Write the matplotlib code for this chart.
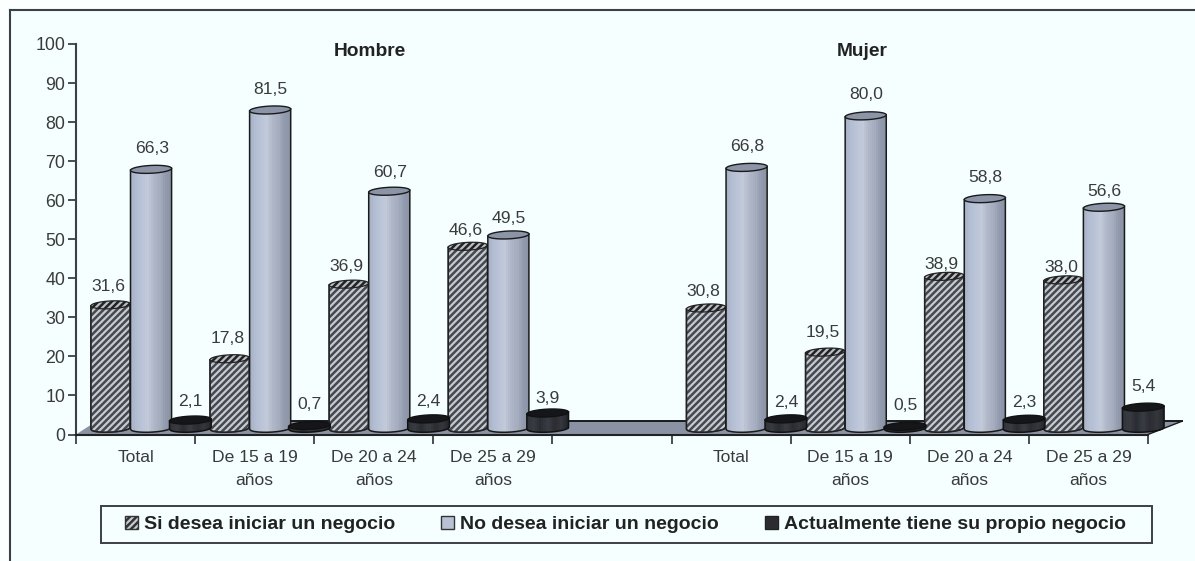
import numpy as np
import matplotlib
matplotlib.use("Agg")
import matplotlib.pyplot as plt
from matplotlib.patches import Polygon, Rectangle, Patch
from matplotlib.lines import Line2D

# ---- data ----
category_slots = [0, 1, 2, 3, 5, 6, 7, 8]
category_names = ["Total", "De 15 a 19\naños", "De 20 a 24\naños", "De 25 a 29\naños",
                  "Total", "De 15 a 19\naños", "De 20 a 24\naños", "De 25 a 29\naños"]
si_desea = [31.6, 17.8, 36.9, 46.6, 30.8, 19.5, 38.9, 38.0]
no_desea = [66.3, 81.5, 60.7, 49.5, 66.8, 80.0, 58.8, 56.6]
propio = [2.1, 0.7, 2.4, 3.9, 2.4, 0.5, 2.3, 5.4]
series_names = ["Si desea iniciar un negocio", "No desea iniciar un negocio",
                "Actualmente tiene su propio negocio"]
group_titles = ["Hombre", "Mujer"]
yticks = list(range(0, 101, 10))

# ---- style ----
W, H = 1195, 561
BG = "#F5FFFF"
TXT = "#3A3A3A"
LINE = "#3C3F45"
HATCH = "/////"
plt.rcParams["font.family"] = ["Liberation Sans", "DejaVu Sans"]
plt.rcParams["hatch.linewidth"] = 1.8

# downward nudges of the value labels, in pixels
drop_si = [4, 2, 4, 6, 5, 2, 10, 10]
drop_no = [1, 1, 3, 5, 1, 1, 1, 6]
drop_propio = [3, 1, 4, 7, 5, 1, 5, 1]
PX = 100 / 390.5

fig = plt.figure(figsize=(W / 100, H / 100), dpi=100, facecolor="#FCFFFF")
fig.add_artist(Rectangle((10 / W, 0), 1, 1 - 10 / H, transform=fig.transFigure, fc=BG, ec="none", zorder=-5))
fig.add_artist(Line2D([10 / W, 10 / W], [0, 1 - 10 / H], color=LINE, lw=1.5))
fig.add_artist(Line2D([10 / W, 1], [1 - 10 / H, 1 - 10 / H], color=LINE, lw=1.5))

ax = fig.add_axes([76 / W, 1 - 434.5 / H, (1148 - 76) / W, 390.5 / H])
ax.set_xlim(0, 9)
ax.set_ylim(0, 100)
ax.patch.set_alpha(0)
for s in ("top", "right"):
    ax.spines[s].set_visible(False)
ax.spines["left"].set_color(LINE)
ax.spines["left"].set_linewidth(1.5)
ax.spines["bottom"].set_color("#222222")
ax.spines["bottom"].set_linewidth(1.5)
ax.spines["bottom"].set_zorder(8)

ax.set_yticks(yticks)
ax.tick_params(axis="y", length=5.8, width=1.3, color=LINE, labelsize=12.8, labelcolor=TXT, pad=2)
ax.set_xticks(range(0, 10))
ax.set_xticklabels([])
ax.tick_params(axis="x", which="major", length=6.5, width=1.3, color=LINE)
ax.set_xticks([c + 0.5 for c in category_slots], minor=True)
ax.set_xticklabels(category_names, minor=True, fontsize=12.6, color=TXT, linespacing=1.72)
ax.tick_params(axis="x", which="minor", length=0, pad=11)

# floor in oblique projection
depth_x, depth_y = 0.286, 3.4
ax.add_patch(Polygon([(0, 0), (9, 0), (9 + depth_x, depth_y), (depth_x * 0.6, depth_y)],
                     closed=True, fc="#8A93A3", ec="none", zorder=1, clip_on=False))
ax.plot([depth_x * 0.6, 9 + depth_x], [depth_y, depth_y], color="#1A1A1A", lw=1.4, zorder=1.5, clip_on=False)
ax.plot([9, 9 + depth_x], [0, depth_y], color="#1A1A1A", lw=1.0, zorder=1.5, clip_on=False)

# cylinders
BASE = 1.6
B = 1.0        # semi-height of end ellipse in data units
TILT = 0.25
t = np.linspace(0, 2 * np.pi, 80)


def hexrgb(c):
    return np.array(matplotlib.colors.to_rgb(c))


def cap(xc, y, w, **kw):
    pts = np.c_[xc + w / 2 * np.cos(t), y + B * np.sin(t) + TILT * np.cos(t)]
    ax.add_patch(Polygon(pts, closed=True, clip_on=False, **kw))


def shell(xc, top, w):
    u = np.linspace(-1, 1, 40)
    lo = BASE - B * np.sqrt(1 - u ** 2) + TILT * u
    xs = xc + u * w / 2
    return np.r_[np.c_[xs, lo], [[xc + w / 2, top + TILT]], [[xc - w / 2, top - TILT]]]


def gradient_bar(xc, v, w, stops, zorder, cap_color, edge):
    top = v + BASE
    n = 20
    edges = np.linspace(-1, 1, n + 1)
    mids = (edges[:-1] + edges[1:]) / 2
    pos = np.linspace(-1, 1, len(stops))
    rgb = np.array([hexrgb(c) for c in stops])
    for m in range(n):
        col = [np.interp(mids[m], pos, rgb[:, i]) for i in range(3)]
        lo = BASE - B * np.sqrt(max(1 - mids[m] ** 2, 0)) + TILT * mids[m]
        ax.bar(xc + mids[m] * w / 2, top - lo, bottom=lo, width=w / n * 1.08, color=col,
               linewidth=0, zorder=zorder, clip_on=False)
    ax.add_patch(Polygon(shell(xc, top, w), closed=True, fc="none", ec=edge, lw=1.1,
                         zorder=zorder + 0.01, clip_on=False))
    cap(xc, top, w, fc=cap_color, ec=edge, lw=1.0, zorder=zorder + 0.02)


def hatched_bar(xc, v, w, zorder):
    top = v + BASE
    ax.add_patch(Polygon(shell(xc, top, w), closed=True, fc="#C6CAD1", ec="#45484E", hatch=HATCH,
                         lw=1.0, zorder=zorder))
    ax.add_patch(Polygon(shell(xc, top, w), closed=True, fc="none", ec="#222222", lw=1.1, zorder=zorder + 0.01))
    cap(xc, top, w, fc="#B9BEC6", ec="#222222", hatch=HATCH, lw=0.9, zorder=zorder + 0.02)


blue_stops = ["#A6B0C5", "#B4BED2", "#BAC4D8", "#C2CAD9", "#AEB6C8", "#A5ADBF", "#929BAE", "#8A93A6"]
dark_stops = ["#2E3137", "#383B42", "#2A2C32", "#3A3D44", "#2A2C32", "#34373D", "#222429"]

label_kw = dict(ha="center", va="center", fontsize=12.6, color=TXT, zorder=9, clip_on=False)
LABEL_GAP = 5.6


def fmt(v):
    return f"{v:.1f}".replace(".", ",")


for i, (c, a, b, d) in enumerate(zip(category_slots, si_desea, no_desea, propio)):
    x1, x2, x3 = c + 0.29, c + 0.63, c + 0.96
    hatched_bar(x1, a, 0.33, 3)
    gradient_bar(x2, b, 0.345, blue_stops, 4, "#8C95A8", "#1A1A1A")
    gradient_bar(x3, d, 0.35, dark_stops, 5, "#15161A", "#111111")
    ax.text(x1 - 0.02, a + BASE + LABEL_GAP - drop_si[i] * PX, fmt(a), **label_kw)
    ax.text(x2 + 0.005, b + BASE + LABEL_GAP - drop_no[i] * PX, fmt(b), **label_kw)
    ax.text(x3, d + BASE + LABEL_GAP - drop_propio[i] * PX, fmt(d), **label_kw)

title_kw = dict(ha="center", va="center", fontsize=13.8, fontweight="bold", color="#222222")
ax.text(2.47, 98, group_titles[0], **title_kw)
ax.text(6.6, 98, group_titles[1], **title_kw)

# legend
fig.add_artist(Rectangle((101 / W, 1 - 543 / H), 1051 / W, 37 / H, transform=fig.transFigure,
                         fc=BG, ec=LINE, lw=1.4, zorder=2))
handles = [Patch(fc="#C6CAD1", ec="#333333", hatch=HATCH, lw=1.0),
           Patch(fc="#B9C2D4", ec="#333333", lw=1.0),
           Patch(fc="#2A2C32", ec="#222222", lw=1.0)]
leg = fig.legend(handles, series_names, loc="center", bbox_to_anchor=(625.5 / W, 1 - 524.5 / H), ncol=3,
                 frameon=False, prop={"size": 14, "weight": "bold"}, labelcolor="#222222",
                 handlelength=0.68, handleheight=0.68, handletextpad=0.3, columnspacing=2.35,
                 borderpad=0, borderaxespad=0)
leg.set_zorder(3)

fig.savefig("out.png", dpi=100, facecolor=fig.get_facecolor())
